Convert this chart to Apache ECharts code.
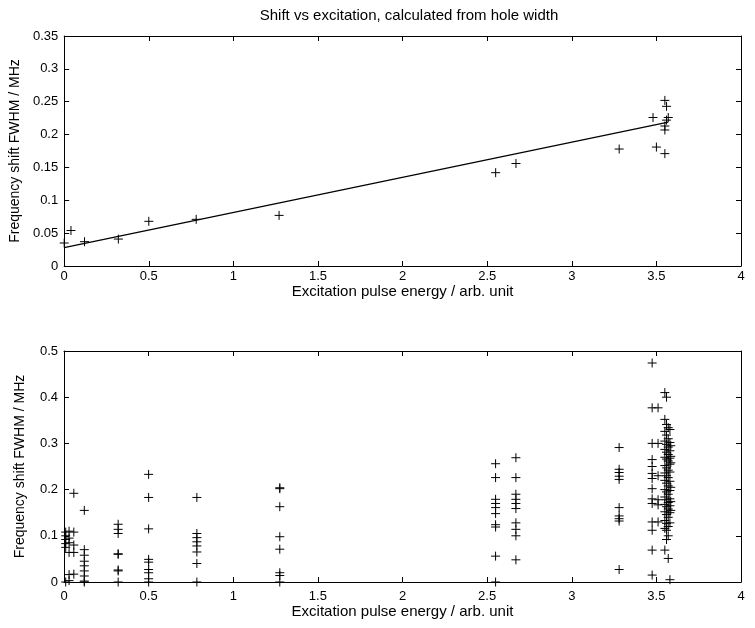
<!DOCTYPE html>
<html>
<head>
<meta charset="utf-8">
<script src="https://cdn.jsdelivr.net/npm/echarts@6/dist/echarts.min.js"></script>
<style>
  html, body { margin: 0; padding: 0; background: #fff; }
  #chart { width: 755px; height: 628px; }
</style>
</head>
<body>
<div id="chart"></div>
<script>
// Upper panel: shift derived from hole width, one point per run
const topX = [0.0, 0.04, 0.12, 0.32, 0.5, 0.78, 1.27, 2.55, 2.67, 3.28, 3.48, 3.50, 3.55, 3.55, 3.56, 3.57, 3.56, 3.55, 3.55];
const topY = [0.035, 0.054, 0.037, 0.041, 0.068, 0.071, 0.077, 0.142, 0.156, 0.178, 0.226, 0.181, 0.171, 0.252, 0.243, 0.226, 0.222, 0.213, 0.207];

// Linear fit through the upper panel points (end points)
const fitX = [0.0, 3.57];
const fitY = [0.028, 0.219];

// Lower panel: individual shift measurements
const botX = [
  0.01, 0.01, 0.01, 0.01, 0.01, 0.01,
  0.03, 0.03, 0.03, 0.03, 0.03, 0.03,
  0.058, 0.058, 0.058, 0.058, 0.058,
  0.12, 0.12, 0.12, 0.12, 0.12, 0.12, 0.12, 0.12, 0.12,
  0.32, 0.32, 0.32, 0.32, 0.32, 0.32, 0.32, 0.32,
  0.5, 0.5, 0.5, 0.5, 0.5, 0.5, 0.5, 0.5, 0.5,
  0.785, 0.785, 0.785, 0.785, 0.785, 0.785, 0.785, 0.785,
  1.275, 1.275, 1.275, 1.275, 1.275, 1.275, 1.275, 1.275,
  2.55, 2.55, 2.55, 2.55, 2.55, 2.55, 2.55, 2.55, 2.55, 2.55,
  2.67, 2.67, 2.67, 2.67, 2.67, 2.67, 2.67, 2.67, 2.67, 2.67,
  3.28, 3.28, 3.28, 3.28, 3.28, 3.28, 3.28, 3.28, 3.28, 3.28,
  3.475, 3.475, 3.475, 3.475, 3.475, 3.475, 3.475, 3.475, 3.475, 3.475, 3.475, 3.475, 3.475, 3.475,
  3.51, 3.51, 3.51, 3.51, 3.51, 3.51,
  3.55, 3.55, 3.55, 3.55, 3.55, 3.55, 3.55, 3.55, 3.55, 3.55, 3.55, 3.55, 3.55, 3.55, 3.55, 3.55,
  3.56, 3.56, 3.56, 3.56, 3.56, 3.56, 3.56, 3.56, 3.56, 3.56, 3.56, 3.56, 3.56, 3.56, 3.56, 3.56,
  3.57, 3.57, 3.57, 3.57, 3.57, 3.57, 3.57, 3.57, 3.57, 3.57, 3.57, 3.57, 3.57, 3.57, 3.57,
  3.58, 3.58, 3.58, 3.58, 3.58, 3.58, 3.58, 3.58, 3.58, 3.58, 3.58, 3.58, 3.58,
  3.585, 3.585, 3.585, 3.585, 3.585, 3.585
];
const botY = [
  0.108, 0.100, 0.092, 0.083, 0.075, 0.0,
  0.110, 0.095, 0.085, 0.064, 0.016, 0.003,
  0.192, 0.108, 0.080, 0.064, 0.017,
  0.155, 0.070, 0.058, 0.045, 0.035, 0.024, 0.013, 0.002, 0.0,
  0.125, 0.114, 0.105, 0.061, 0.060, 0.026, 0.024, 0.0,
  0.233, 0.183, 0.115, 0.049, 0.043, 0.027, 0.020, 0.007, 0.0,
  0.183, 0.105, 0.096, 0.087, 0.078, 0.065, 0.040, 0.0,
  0.204, 0.202, 0.163, 0.098, 0.071, 0.020, 0.014, 0.0,
  0.256, 0.226, 0.179, 0.170, 0.161, 0.148, 0.124, 0.119, 0.056, 0.0,
  0.269, 0.226, 0.190, 0.179, 0.170, 0.159, 0.128, 0.114, 0.100, 0.048,
  0.291, 0.244, 0.237, 0.229, 0.222, 0.161, 0.143, 0.137, 0.132, 0.027,
  0.474, 0.377, 0.300, 0.265, 0.250, 0.235, 0.224, 0.202, 0.180, 0.170, 0.130, 0.112, 0.069, 0.015,
  0.377, 0.300, 0.230, 0.178, 0.167, 0.130,
  0.410, 0.352, 0.326, 0.305, 0.287, 0.270, 0.252, 0.236, 0.220, 0.200, 0.184, 0.168, 0.152, 0.133, 0.116, 0.069,
  0.400, 0.341, 0.318, 0.298, 0.281, 0.266, 0.247, 0.230, 0.214, 0.195, 0.178, 0.163, 0.146, 0.127, 0.112, 0.092,
  0.334, 0.310, 0.292, 0.276, 0.262, 0.242, 0.226, 0.208, 0.190, 0.172, 0.158, 0.140, 0.120, 0.100, 0.051,
  0.330, 0.302, 0.284, 0.268, 0.255, 0.238, 0.218, 0.198, 0.180, 0.165, 0.150, 0.128, 0.005,
  0.295, 0.272, 0.258, 0.205, 0.174, 0.155
];

const xTicks = { min: 0, max: 4, interval: 0.5 };
const topTicks = { min: 0, max: 0.35, interval: 0.05 };
const botTicks = { min: 0, max: 0.5, interval: 0.1 };

const titleText = 'Shift vs excitation, calculated from hole width';
const xName = 'Excitation pulse energy / arb. unit';
const yName = 'Frequency shift FWHM / MHz';

const FONT = '"Liberation Sans", Arial, Helvetica, sans-serif';
const INK = '#000';
const plus = 'path://M0,5L10,5M5,0L5,10';

function zip(xs, ys) { return xs.map((x, i) => [x, ys[i]]); }

function mainX(grid, labelMargin, nameGap) {
  return {
    type: 'value', gridIndex: grid, position: 'bottom',
    min: xTicks.min, max: xTicks.max, interval: xTicks.interval,
    name: xName, nameLocation: 'middle', nameGap: nameGap,
    nameTextStyle: { color: INK, fontFamily: FONT, fontSize: 15 },
    axisLine: { show: true, onZero: false, lineStyle: { color: INK, width: 1 } },
    axisTick: { show: true, inside: true, length: 5, lineStyle: { color: INK } },
    axisLabel: { color: INK, fontFamily: FONT, fontSize: 13, margin: labelMargin },
    splitLine: { show: false }
  };
}
function mirrorX(grid) {
  return {
    type: 'value', gridIndex: grid, position: 'top',
    min: xTicks.min, max: xTicks.max, interval: xTicks.interval,
    axisLine: { show: true, onZero: false, lineStyle: { color: INK, width: 1 } },
    axisTick: { show: true, inside: true, length: 5, lineStyle: { color: INK } },
    axisLabel: { show: false },
    splitLine: { show: false }
  };
}
function mainY(grid, t) {
  return {
    type: 'value', gridIndex: grid, position: 'left',
    min: t.min, max: t.max, interval: t.interval,
    name: yName, nameLocation: 'middle', nameGap: 37, nameRotate: 90,
    nameTextStyle: { color: INK, fontFamily: FONT, fontSize: 14 },
    axisLine: { show: true, onZero: false, lineStyle: { color: INK, width: 1 } },
    axisTick: { show: true, inside: true, length: 5, lineStyle: { color: INK } },
    axisLabel: { color: INK, fontFamily: FONT, fontSize: 13, margin: 6 },
    splitLine: { show: false }
  };
}
function mirrorY(grid, t) {
  return {
    type: 'value', gridIndex: grid, position: 'right',
    min: t.min, max: t.max, interval: t.interval,
    axisLine: { show: true, onZero: false, lineStyle: { color: INK, width: 1 } },
    axisTick: { show: true, inside: true, length: 5, lineStyle: { color: INK } },
    axisLabel: { show: false },
    splitLine: { show: false }
  };
}

const markerStyle = { color: 'transparent', borderColor: INK, borderWidth: 1, opacity: 1 };

const chart = echarts.init(document.getElementById('chart'), null, { renderer: 'canvas' });
chart.setOption({
  backgroundColor: '#fff',
  animation: false,
  title: {
    text: titleText, left: 404, top: 3, textAlign: 'center',
    textStyle: { color: INK, fontFamily: FONT, fontSize: 15, fontWeight: 'normal' }
  },
  grid: [
    { left: 64, right: 14, top: 36, height: 230 },
    { left: 64, right: 14, top: 351, height: 231 }
  ],
  xAxis: [mainX(0, 4, 14), mirrorX(0), mainX(1, 8, 21), mirrorX(1)],
  yAxis: [mainY(0, topTicks), mirrorY(0, topTicks), mainY(1, botTicks), mirrorY(1, botTicks)],
  series: [
    {
      type: 'line', xAxisIndex: 0, yAxisIndex: 0,
      data: zip(fitX, fitY), showSymbol: false, symbol: 'none',
      lineStyle: { color: INK, width: 1.2 }, silent: true
    },
    {
      type: 'scatter', xAxisIndex: 0, yAxisIndex: 0,
      data: zip(topX, topY), symbol: plus, symbolSize: 9,
      itemStyle: markerStyle, clip: false
    },
    {
      type: 'scatter', xAxisIndex: 2, yAxisIndex: 2,
      data: zip(botX, botY), symbol: plus, symbolSize: 9,
      itemStyle: markerStyle, clip: false
    }
  ]
});
</script>
</body>
</html>
